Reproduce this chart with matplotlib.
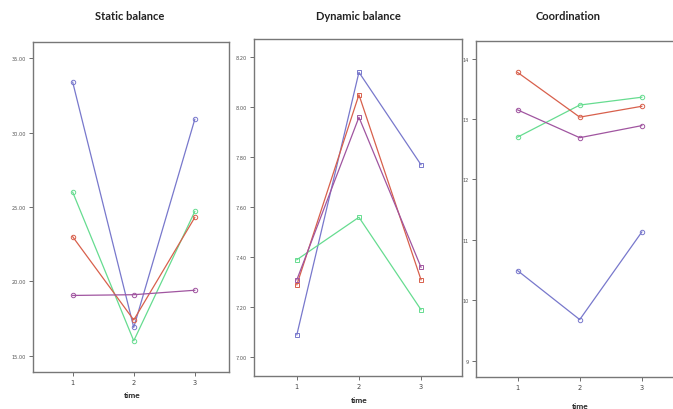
import matplotlib
matplotlib.use("Agg")
import matplotlib.pyplot as plt

# time points
time = [1, 2, 3]

# series colours (four groups, same order in each panel)
colors = ["#7878cc", "#66dc90", "#d8604c", "#a055a0"]

# Static balance
static_blue = [33.4, 16.9, 30.9]
static_green = [26.0, 16.0, 24.7]
static_red = [23.0, 17.4, 24.3]
static_purple = [19.05, 19.1, 19.4]
static_ticks = [15, 20, 25, 30, 35]
static_ticklabels = ["15.00", "20.00", "25.00", "30.00", "35.00"]

# Dynamic balance
dynamic_blue = [7.09, 8.14, 7.77]
dynamic_green = [7.39, 7.56, 7.19]
dynamic_red = [7.29, 8.05, 7.31]
dynamic_purple = [7.31, 7.96, 7.36]
dynamic_ticks = [7.0, 7.2, 7.4, 7.6, 7.8, 8.0, 8.2]
dynamic_ticklabels = ["7.00", "7.20", "7.40", "7.60", "7.80", "8.00", "8.20"]

# Coordination
coord_blue = [10.49, 9.68, 11.13]
coord_green = [12.70, 13.23, 13.36]
coord_red = [13.77, 13.03, 13.21]
coord_purple = [13.15, 12.69, 12.89]
coord_ticks = [9, 10, 11, 12, 13, 14]
coord_ticklabels = ["9", "10", "11", "12", "13", "14"]

W, H = 673, 410
fig = plt.figure(figsize=(W / 100, H / 100), dpi=100)
fig.patch.set_facecolor("white")

title_font = ["Lato", "DejaVu Sans"]


def panel(rect, series, marker, ticks, ticklabels, ylim, xlim, title, title_xy, label_xy):
    l, t, r, b = rect
    ax = fig.add_axes([l / W, 1 - b / H, (r - l) / W, (b - t) / H])
    for vals, c in zip(series, colors):
        ax.plot(time, vals, color=c, lw=0.9, marker=marker, ms=3.2,
                mfc="none", mec=c, mew=0.7)
    ax.set_xlim(*xlim)
    ax.set_ylim(*ylim)
    ax.set_xticks(time)
    ax.set_xticklabels(["1", "2", "3"], fontsize=4.8, color="#444444")
    ax.set_yticks(ticks)
    ax.set_yticklabels(ticklabels, fontsize=3.6, color="#555555")
    ax.tick_params(axis="both", length=3, width=0.6, color="#555555", pad=2)
    for s in ax.spines.values():
        s.set_color("#777777")
        s.set_linewidth(1.0)
    fig.text(title_xy[0] / W, 1 - title_xy[1] / H, title, ha="center", va="center",
             fontsize=8, fontweight="bold", family=title_font, color="#222222")
    fig.text(label_xy[0] / W, 1 - label_xy[1] / H, "time", ha="center", va="center",
             fontsize=6, fontweight="bold", family=title_font, color="#222222")
    return ax


panel((33, 43, 229, 373),
      [static_blue, static_green, static_red, static_purple], "o",
      static_ticks, static_ticklabels, (13.9, 36.1), (0.35, 3.56),
      "Static balance", (130, 17), (132, 396))

panel((254, 40, 462, 377),
      [dynamic_blue, dynamic_green, dynamic_red, dynamic_purple], "s",
      dynamic_ticks, dynamic_ticklabels, (6.925, 8.273), (0.31, 3.66),
      "Dynamic balance", (358, 17), (359, 401))

panel((476, 42, 676, 378),
      [coord_blue, coord_green, coord_red, coord_purple], "o",
      coord_ticks, coord_ticklabels, (8.73, 14.29), (0.33, 3.55),
      "Coordination", (568, 17), (580, 407))

fig.savefig("out.png", dpi=100)
